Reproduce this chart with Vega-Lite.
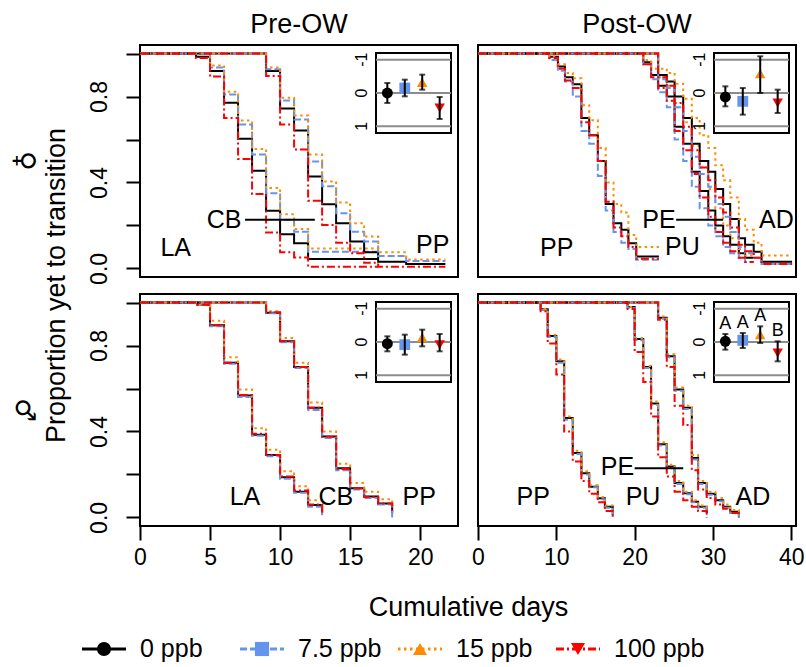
{
"$schema": "https://vega.github.io/schema/vega-lite/v6.json",
"background": "white",
"padding": {"left": 10, "top": 10, "right": 0, "bottom": 0},
"config": {
  "font": "Liberation Sans",
  "view": {"stroke": "black", "strokeWidth": 2},
  "axis": {"domain": false, "grid": false, "tickColor": "black", "tickWidth": 2, "tickSize": 14, "labelFontSize": 23, "labelColor": "black", "titleFontWeight": "normal", "titleColor": "black", "titleFontSize": 27, "labelOverlap": false, "labelFlush": false},
  "title": {"fontWeight": "normal", "fontSize": 27, "color": "black"},
  "text": {"color": "black"}
},
"datasets": {
"curves": [
{"g":"A","s":1,"t":"0","d":0,"p":1},{"g":"A","s":1,"t":"0","d":4,"p":0.985},{"g":"A","s":1,"t":"0","d":5,"p":0.919},{"g":"A","s":1,"t":"0","d":6,"p":0.771},{"g":"A","s":1,"t":"0","d":7,"p":0.604},{"g":"A","s":1,"t":"0","d":8,"p":0.455},{"g":"A","s":1,"t":"0","d":9,"p":0.268},{"g":"A","s":1,"t":"0","d":10,"p":0.159},{"g":"A","s":1,"t":"0","d":11,"p":0.117},{"g":"A","s":1,"t":"0","d":12,"p":0.044},{"g":"A","s":1,"t":"0","d":17,"p":0.044},
{"g":"A","s":1,"t":"7.5","d":0,"p":1},{"g":"A","s":1,"t":"7.5","d":5,"p":0.935},{"g":"A","s":1,"t":"7.5","d":6,"p":0.81},{"g":"A","s":1,"t":"7.5","d":7,"p":0.67},{"g":"A","s":1,"t":"7.5","d":8,"p":0.53},{"g":"A","s":1,"t":"7.5","d":9,"p":0.35},{"g":"A","s":1,"t":"7.5","d":10,"p":0.226},{"g":"A","s":1,"t":"7.5","d":11,"p":0.171},{"g":"A","s":1,"t":"7.5","d":12,"p":0.078},{"g":"A","s":1,"t":"7.5","d":17,"p":0.078},
{"g":"A","s":1,"t":"15","d":0,"p":1},{"g":"A","s":1,"t":"15","d":5,"p":0.945},{"g":"A","s":1,"t":"15","d":6,"p":0.822},{"g":"A","s":1,"t":"15","d":7,"p":0.688},{"g":"A","s":1,"t":"15","d":8,"p":0.556},{"g":"A","s":1,"t":"15","d":9,"p":0.374},{"g":"A","s":1,"t":"15","d":10,"p":0.252},{"g":"A","s":1,"t":"15","d":11,"p":0.184},{"g":"A","s":1,"t":"15","d":12,"p":0.093},{"g":"A","s":1,"t":"15","d":17,"p":0.093},
{"g":"A","s":1,"t":"100","d":0,"p":1},{"g":"A","s":1,"t":"100","d":4,"p":0.98},{"g":"A","s":1,"t":"100","d":5,"p":0.893},{"g":"A","s":1,"t":"100","d":6,"p":0.7},{"g":"A","s":1,"t":"100","d":7,"p":0.509},{"g":"A","s":1,"t":"100","d":8,"p":0.346},{"g":"A","s":1,"t":"100","d":9,"p":0.167},{"g":"A","s":1,"t":"100","d":10,"p":0.075},{"g":"A","s":1,"t":"100","d":11,"p":0.051},{"g":"A","s":1,"t":"100","d":12,"p":0.008},{"g":"A","s":1,"t":"100","d":17,"p":0.008},
{"g":"A","s":2,"t":"0","d":0,"p":1},{"g":"A","s":2,"t":"0","d":9,"p":0.919},{"g":"A","s":2,"t":"0","d":10,"p":0.744},{"g":"A","s":2,"t":"0","d":11,"p":0.642},{"g":"A","s":2,"t":"0","d":12,"p":0.428},{"g":"A","s":2,"t":"0","d":13,"p":0.299},{"g":"A","s":2,"t":"0","d":14,"p":0.21},{"g":"A","s":2,"t":"0","d":15,"p":0.125},{"g":"A","s":2,"t":"0","d":16,"p":0.075},{"g":"A","s":2,"t":"0","d":17,"p":0.031},{"g":"A","s":2,"t":"0","d":19,"p":0.02},{"g":"A","s":2,"t":"0","d":21.8,"p":0.02},
{"g":"A","s":2,"t":"7.5","d":0,"p":1},{"g":"A","s":2,"t":"7.5","d":9,"p":0.927},{"g":"A","s":2,"t":"7.5","d":10,"p":0.782},{"g":"A","s":2,"t":"7.5","d":11,"p":0.693},{"g":"A","s":2,"t":"7.5","d":12,"p":0.498},{"g":"A","s":2,"t":"7.5","d":13,"p":0.382},{"g":"A","s":2,"t":"7.5","d":14,"p":0.257},{"g":"A","s":2,"t":"7.5","d":15,"p":0.171},{"g":"A","s":2,"t":"7.5","d":16,"p":0.125},{"g":"A","s":2,"t":"7.5","d":17,"p":0.058},{"g":"A","s":2,"t":"7.5","d":19,"p":0.034},{"g":"A","s":2,"t":"7.5","d":21.8,"p":0.034},
{"g":"A","s":2,"t":"15","d":0,"p":1},{"g":"A","s":2,"t":"15","d":9,"p":0.935},{"g":"A","s":2,"t":"15","d":10,"p":0.794},{"g":"A","s":2,"t":"15","d":11,"p":0.712},{"g":"A","s":2,"t":"15","d":12,"p":0.53},{"g":"A","s":2,"t":"15","d":13,"p":0.405},{"g":"A","s":2,"t":"15","d":14,"p":0.307},{"g":"A","s":2,"t":"15","d":15,"p":0.21},{"g":"A","s":2,"t":"15","d":16,"p":0.148},{"g":"A","s":2,"t":"15","d":17,"p":0.075},{"g":"A","s":2,"t":"15","d":19,"p":0.042},{"g":"A","s":2,"t":"15","d":21.8,"p":0.042},
{"g":"A","s":2,"t":"100","d":0,"p":1},{"g":"A","s":2,"t":"100","d":9,"p":0.896},{"g":"A","s":2,"t":"100","d":10,"p":0.67},{"g":"A","s":2,"t":"100","d":11,"p":0.553},{"g":"A","s":2,"t":"100","d":12,"p":0.315},{"g":"A","s":2,"t":"100","d":13,"p":0.202},{"g":"A","s":2,"t":"100","d":14,"p":0.12},{"g":"A","s":2,"t":"100","d":15,"p":0.07},{"g":"A","s":2,"t":"100","d":16,"p":0.026},{"g":"A","s":2,"t":"100","d":17,"p":0.008},{"g":"A","s":2,"t":"100","d":21.8,"p":0.008},

{"g":"B","s":1,"t":"0","d":0,"p":1},{"g":"B","s":1,"t":"0","d":9.1,"p":0.985},{"g":"B","s":1,"t":"0","d":10.2,"p":0.94},{"g":"B","s":1,"t":"0","d":11.1,"p":0.89},{"g":"B","s":1,"t":"0","d":12.1,"p":0.857},{"g":"B","s":1,"t":"0","d":13.2,"p":0.7},{"g":"B","s":1,"t":"0","d":14.2,"p":0.62},{"g":"B","s":1,"t":"0","d":15.3,"p":0.5},{"g":"B","s":1,"t":"0","d":16.3,"p":0.3},{"g":"B","s":1,"t":"0","d":17.3,"p":0.21},{"g":"B","s":1,"t":"0","d":18.3,"p":0.18},{"g":"B","s":1,"t":"0","d":19.2,"p":0.117},{"g":"B","s":1,"t":"0","d":20.2,"p":0.055},{"g":"B","s":1,"t":"0","d":23.1,"p":0.055},
{"g":"B","s":1,"t":"7.5","d":0,"p":1},{"g":"B","s":1,"t":"7.5","d":9.1,"p":0.97},{"g":"B","s":1,"t":"7.5","d":10.2,"p":0.92},{"g":"B","s":1,"t":"7.5","d":11.1,"p":0.87},{"g":"B","s":1,"t":"7.5","d":12.1,"p":0.8},{"g":"B","s":1,"t":"7.5","d":13.2,"p":0.64},{"g":"B","s":1,"t":"7.5","d":14.2,"p":0.58},{"g":"B","s":1,"t":"7.5","d":15.3,"p":0.43},{"g":"B","s":1,"t":"7.5","d":16.3,"p":0.27},{"g":"B","s":1,"t":"7.5","d":17.3,"p":0.17},{"g":"B","s":1,"t":"7.5","d":18.3,"p":0.12},{"g":"B","s":1,"t":"7.5","d":19.2,"p":0.09},{"g":"B","s":1,"t":"7.5","d":20.2,"p":0.04},{"g":"B","s":1,"t":"7.5","d":23.1,"p":0.04},
{"g":"B","s":1,"t":"15","d":0,"p":1},{"g":"B","s":1,"t":"15","d":9.1,"p":0.985},{"g":"B","s":1,"t":"15","d":10.2,"p":0.95},{"g":"B","s":1,"t":"15","d":11.1,"p":0.91},{"g":"B","s":1,"t":"15","d":12.1,"p":0.885},{"g":"B","s":1,"t":"15","d":13.2,"p":0.76},{"g":"B","s":1,"t":"15","d":14.2,"p":0.69},{"g":"B","s":1,"t":"15","d":15.3,"p":0.56},{"g":"B","s":1,"t":"15","d":16.3,"p":0.4},{"g":"B","s":1,"t":"15","d":17.3,"p":0.3},{"g":"B","s":1,"t":"15","d":18.3,"p":0.26},{"g":"B","s":1,"t":"15","d":19.2,"p":0.156},{"g":"B","s":1,"t":"15","d":20.2,"p":0.1},{"g":"B","s":1,"t":"15","d":23.1,"p":0.1},
{"g":"B","s":1,"t":"100","d":0,"p":1},{"g":"B","s":1,"t":"100","d":9.1,"p":0.98},{"g":"B","s":1,"t":"100","d":10.2,"p":0.93},{"g":"B","s":1,"t":"100","d":11.1,"p":0.875},{"g":"B","s":1,"t":"100","d":12.1,"p":0.84},{"g":"B","s":1,"t":"100","d":13.2,"p":0.68},{"g":"B","s":1,"t":"100","d":14.2,"p":0.62},{"g":"B","s":1,"t":"100","d":15.3,"p":0.5},{"g":"B","s":1,"t":"100","d":16.3,"p":0.31},{"g":"B","s":1,"t":"100","d":17.3,"p":0.19},{"g":"B","s":1,"t":"100","d":18.3,"p":0.15},{"g":"B","s":1,"t":"100","d":19.2,"p":0.1},{"g":"B","s":1,"t":"100","d":20.2,"p":0.045},{"g":"B","s":1,"t":"100","d":23.1,"p":0.045},
{"g":"B","s":2,"t":"0","d":0,"p":1},{"g":"B","s":2,"t":"0","d":21.1,"p":0.96},{"g":"B","s":2,"t":"0","d":22.1,"p":0.9},{"g":"B","s":2,"t":"0","d":23,"p":0.85},{"g":"B","s":2,"t":"0","d":24.1,"p":0.8},{"g":"B","s":2,"t":"0","d":25.1,"p":0.66},{"g":"B","s":2,"t":"0","d":26.2,"p":0.58},{"g":"B","s":2,"t":"0","d":27.3,"p":0.45},{"g":"B","s":2,"t":"0","d":28.3,"p":0.36},{"g":"B","s":2,"t":"0","d":29.4,"p":0.27},{"g":"B","s":2,"t":"0","d":30.3,"p":0.2},{"g":"B","s":2,"t":"0","d":31.3,"p":0.15},{"g":"B","s":2,"t":"0","d":32.2,"p":0.11},{"g":"B","s":2,"t":"0","d":33.3,"p":0.07},{"g":"B","s":2,"t":"0","d":34.1,"p":0.05},{"g":"B","s":2,"t":"0","d":35.2,"p":0.05},
{"g":"B","s":2,"t":"7.5","d":0,"p":1},{"g":"B","s":2,"t":"7.5","d":21.1,"p":0.95},{"g":"B","s":2,"t":"7.5","d":22.1,"p":0.88},{"g":"B","s":2,"t":"7.5","d":23,"p":0.82},{"g":"B","s":2,"t":"7.5","d":24.1,"p":0.75},{"g":"B","s":2,"t":"7.5","d":25.1,"p":0.6},{"g":"B","s":2,"t":"7.5","d":26.2,"p":0.5},{"g":"B","s":2,"t":"7.5","d":27.3,"p":0.38},{"g":"B","s":2,"t":"7.5","d":28.3,"p":0.28},{"g":"B","s":2,"t":"7.5","d":29.4,"p":0.2},{"g":"B","s":2,"t":"7.5","d":30.3,"p":0.15},{"g":"B","s":2,"t":"7.5","d":31.3,"p":0.1},{"g":"B","s":2,"t":"7.5","d":32.2,"p":0.07},{"g":"B","s":2,"t":"7.5","d":33.3,"p":0.05},{"g":"B","s":2,"t":"7.5","d":34.1,"p":0.03},{"g":"B","s":2,"t":"7.5","d":35.2,"p":0.03},
{"g":"B","s":2,"t":"15","d":0,"p":1},{"g":"B","s":2,"t":"15","d":21.1,"p":0.97},{"g":"B","s":2,"t":"15","d":22.1,"p":0.93},{"g":"B","s":2,"t":"15","d":23,"p":0.89},{"g":"B","s":2,"t":"15","d":24.1,"p":0.85},{"g":"B","s":2,"t":"15","d":25.1,"p":0.75},{"g":"B","s":2,"t":"15","d":26.2,"p":0.68},{"g":"B","s":2,"t":"15","d":27.3,"p":0.57},{"g":"B","s":2,"t":"15","d":28.3,"p":0.47},{"g":"B","s":2,"t":"15","d":29.4,"p":0.37},{"g":"B","s":2,"t":"15","d":30.3,"p":0.28},{"g":"B","s":2,"t":"15","d":31.3,"p":0.2},{"g":"B","s":2,"t":"15","d":32.2,"p":0.14},{"g":"B","s":2,"t":"15","d":33.3,"p":0.09},{"g":"B","s":2,"t":"15","d":34.1,"p":0.06},{"g":"B","s":2,"t":"15","d":35.2,"p":0.06},
{"g":"B","s":2,"t":"100","d":0,"p":1},{"g":"B","s":2,"t":"100","d":21.1,"p":0.95},{"g":"B","s":2,"t":"100","d":22.1,"p":0.89},{"g":"B","s":2,"t":"100","d":23,"p":0.84},{"g":"B","s":2,"t":"100","d":24.1,"p":0.78},{"g":"B","s":2,"t":"100","d":25.1,"p":0.64},{"g":"B","s":2,"t":"100","d":26.2,"p":0.55},{"g":"B","s":2,"t":"100","d":27.3,"p":0.44},{"g":"B","s":2,"t":"100","d":28.3,"p":0.33},{"g":"B","s":2,"t":"100","d":29.4,"p":0.24},{"g":"B","s":2,"t":"100","d":30.3,"p":0.17},{"g":"B","s":2,"t":"100","d":31.3,"p":0.12},{"g":"B","s":2,"t":"100","d":32.2,"p":0.08},{"g":"B","s":2,"t":"100","d":33.3,"p":0.05},{"g":"B","s":2,"t":"100","d":34.1,"p":0.03},{"g":"B","s":2,"t":"100","d":35.2,"p":0.03},
{"g":"B","s":3,"t":"0","d":0,"p":1},{"g":"B","s":3,"t":"0","d":23,"p":0.9},{"g":"B","s":3,"t":"0","d":24.1,"p":0.87},{"g":"B","s":3,"t":"0","d":25.1,"p":0.8},{"g":"B","s":3,"t":"0","d":26.2,"p":0.7},{"g":"B","s":3,"t":"0","d":27.3,"p":0.58},{"g":"B","s":3,"t":"0","d":28.3,"p":0.5},{"g":"B","s":3,"t":"0","d":29.4,"p":0.45},{"g":"B","s":3,"t":"0","d":30.3,"p":0.37},{"g":"B","s":3,"t":"0","d":31.3,"p":0.3},{"g":"B","s":3,"t":"0","d":32.2,"p":0.23},{"g":"B","s":3,"t":"0","d":33.3,"p":0.14},{"g":"B","s":3,"t":"0","d":34.1,"p":0.11},{"g":"B","s":3,"t":"0","d":35.2,"p":0.078},{"g":"B","s":3,"t":"0","d":36.2,"p":0.031},{"g":"B","s":3,"t":"0","d":40.1,"p":0.031},
{"g":"B","s":3,"t":"7.5","d":0,"p":1},{"g":"B","s":3,"t":"7.5","d":23,"p":0.88},{"g":"B","s":3,"t":"7.5","d":24.1,"p":0.84},{"g":"B","s":3,"t":"7.5","d":25.1,"p":0.75},{"g":"B","s":3,"t":"7.5","d":26.2,"p":0.64},{"g":"B","s":3,"t":"7.5","d":27.3,"p":0.52},{"g":"B","s":3,"t":"7.5","d":28.3,"p":0.44},{"g":"B","s":3,"t":"7.5","d":29.4,"p":0.38},{"g":"B","s":3,"t":"7.5","d":30.3,"p":0.3},{"g":"B","s":3,"t":"7.5","d":31.3,"p":0.24},{"g":"B","s":3,"t":"7.5","d":32.2,"p":0.17},{"g":"B","s":3,"t":"7.5","d":33.3,"p":0.1},{"g":"B","s":3,"t":"7.5","d":34.1,"p":0.07},{"g":"B","s":3,"t":"7.5","d":35.2,"p":0.05},{"g":"B","s":3,"t":"7.5","d":36.2,"p":0.02},{"g":"B","s":3,"t":"7.5","d":40.1,"p":0.02},
{"g":"B","s":3,"t":"15","d":0,"p":1},{"g":"B","s":3,"t":"15","d":23,"p":0.93},{"g":"B","s":3,"t":"15","d":24.1,"p":0.91},{"g":"B","s":3,"t":"15","d":25.1,"p":0.86},{"g":"B","s":3,"t":"15","d":26.2,"p":0.79},{"g":"B","s":3,"t":"15","d":27.3,"p":0.7},{"g":"B","s":3,"t":"15","d":28.3,"p":0.62},{"g":"B","s":3,"t":"15","d":29.4,"p":0.56},{"g":"B","s":3,"t":"15","d":30.3,"p":0.48},{"g":"B","s":3,"t":"15","d":31.3,"p":0.41},{"g":"B","s":3,"t":"15","d":32.2,"p":0.33},{"g":"B","s":3,"t":"15","d":33.3,"p":0.23},{"g":"B","s":3,"t":"15","d":34.1,"p":0.18},{"g":"B","s":3,"t":"15","d":35.2,"p":0.12},{"g":"B","s":3,"t":"15","d":36.2,"p":0.06},{"g":"B","s":3,"t":"15","d":40.1,"p":0.06},
{"g":"B","s":3,"t":"100","d":0,"p":1},{"g":"B","s":3,"t":"100","d":23,"p":0.89},{"g":"B","s":3,"t":"100","d":24.1,"p":0.85},{"g":"B","s":3,"t":"100","d":25.1,"p":0.77},{"g":"B","s":3,"t":"100","d":26.2,"p":0.66},{"g":"B","s":3,"t":"100","d":27.3,"p":0.55},{"g":"B","s":3,"t":"100","d":28.3,"p":0.47},{"g":"B","s":3,"t":"100","d":29.4,"p":0.41},{"g":"B","s":3,"t":"100","d":30.3,"p":0.33},{"g":"B","s":3,"t":"100","d":31.3,"p":0.26},{"g":"B","s":3,"t":"100","d":32.2,"p":0.19},{"g":"B","s":3,"t":"100","d":33.3,"p":0.11},{"g":"B","s":3,"t":"100","d":34.1,"p":0.08},{"g":"B","s":3,"t":"100","d":35.2,"p":0.05},{"g":"B","s":3,"t":"100","d":36.2,"p":0.02},{"g":"B","s":3,"t":"100","d":40.1,"p":0.02},

{"g":"C","s":1,"t":"0","d":0,"p":1},{"g":"C","s":1,"t":"0","d":4.1,"p":0.99},{"g":"C","s":1,"t":"0","d":5,"p":0.894},{"g":"C","s":1,"t":"0","d":6,"p":0.72},{"g":"C","s":1,"t":"0","d":7,"p":0.567},{"g":"C","s":1,"t":"0","d":8,"p":0.385},{"g":"C","s":1,"t":"0","d":9,"p":0.291},{"g":"C","s":1,"t":"0","d":10,"p":0.187},{"g":"C","s":1,"t":"0","d":11,"p":0.12},{"g":"C","s":1,"t":"0","d":12,"p":0.058},{"g":"C","s":1,"t":"0","d":13,"p":0.02},
{"g":"C","s":1,"t":"7.5","d":0,"p":1},{"g":"C","s":1,"t":"7.5","d":4.1,"p":0.99},{"g":"C","s":1,"t":"7.5","d":5,"p":0.89},{"g":"C","s":1,"t":"7.5","d":6,"p":0.715},{"g":"C","s":1,"t":"7.5","d":7,"p":0.56},{"g":"C","s":1,"t":"7.5","d":8,"p":0.38},{"g":"C","s":1,"t":"7.5","d":9,"p":0.285},{"g":"C","s":1,"t":"7.5","d":10,"p":0.18},{"g":"C","s":1,"t":"7.5","d":11,"p":0.115},{"g":"C","s":1,"t":"7.5","d":12,"p":0.05},{"g":"C","s":1,"t":"7.5","d":13,"p":0.01},
{"g":"C","s":1,"t":"15","d":0,"p":1},{"g":"C","s":1,"t":"15","d":4.1,"p":0.99},{"g":"C","s":1,"t":"15","d":5,"p":0.915},{"g":"C","s":1,"t":"15","d":6,"p":0.745},{"g":"C","s":1,"t":"15","d":7,"p":0.595},{"g":"C","s":1,"t":"15","d":8,"p":0.415},{"g":"C","s":1,"t":"15","d":9,"p":0.315},{"g":"C","s":1,"t":"15","d":10,"p":0.215},{"g":"C","s":1,"t":"15","d":11,"p":0.145},{"g":"C","s":1,"t":"15","d":12,"p":0.08},{"g":"C","s":1,"t":"15","d":13,"p":0.045},
{"g":"C","s":1,"t":"100","d":0,"p":1},{"g":"C","s":1,"t":"100","d":4.1,"p":0.99},{"g":"C","s":1,"t":"100","d":5,"p":0.895},{"g":"C","s":1,"t":"100","d":6,"p":0.72},{"g":"C","s":1,"t":"100","d":7,"p":0.57},{"g":"C","s":1,"t":"100","d":8,"p":0.39},{"g":"C","s":1,"t":"100","d":9,"p":0.29},{"g":"C","s":1,"t":"100","d":10,"p":0.19},{"g":"C","s":1,"t":"100","d":11,"p":0.125},{"g":"C","s":1,"t":"100","d":12,"p":0.06},{"g":"C","s":1,"t":"100","d":13,"p":0.02},
{"g":"C","s":2,"t":"0","d":0,"p":1},{"g":"C","s":2,"t":"0","d":9,"p":0.953},{"g":"C","s":2,"t":"0","d":10,"p":0.82},{"g":"C","s":2,"t":"0","d":11,"p":0.7},{"g":"C","s":2,"t":"0","d":12,"p":0.51},{"g":"C","s":2,"t":"0","d":13,"p":0.377},{"g":"C","s":2,"t":"0","d":14,"p":0.229},{"g":"C","s":2,"t":"0","d":15,"p":0.136},{"g":"C","s":2,"t":"0","d":16,"p":0.097},{"g":"C","s":2,"t":"0","d":17,"p":0.065},{"g":"C","s":2,"t":"0","d":18,"p":0.02},
{"g":"C","s":2,"t":"7.5","d":0,"p":1},{"g":"C","s":2,"t":"7.5","d":9,"p":0.95},{"g":"C","s":2,"t":"7.5","d":10,"p":0.815},{"g":"C","s":2,"t":"7.5","d":11,"p":0.695},{"g":"C","s":2,"t":"7.5","d":12,"p":0.5},{"g":"C","s":2,"t":"7.5","d":13,"p":0.37},{"g":"C","s":2,"t":"7.5","d":14,"p":0.22},{"g":"C","s":2,"t":"7.5","d":15,"p":0.13},{"g":"C","s":2,"t":"7.5","d":16,"p":0.09},{"g":"C","s":2,"t":"7.5","d":17,"p":0.06},{"g":"C","s":2,"t":"7.5","d":18,"p":0},
{"g":"C","s":2,"t":"15","d":0,"p":1},{"g":"C","s":2,"t":"15","d":9,"p":0.96},{"g":"C","s":2,"t":"15","d":10,"p":0.835},{"g":"C","s":2,"t":"15","d":11,"p":0.72},{"g":"C","s":2,"t":"15","d":12,"p":0.535},{"g":"C","s":2,"t":"15","d":13,"p":0.4},{"g":"C","s":2,"t":"15","d":14,"p":0.25},{"g":"C","s":2,"t":"15","d":15,"p":0.16},{"g":"C","s":2,"t":"15","d":16,"p":0.12},{"g":"C","s":2,"t":"15","d":17,"p":0.085},{"g":"C","s":2,"t":"15","d":18,"p":0.06},
{"g":"C","s":2,"t":"100","d":0,"p":1},{"g":"C","s":2,"t":"100","d":9,"p":0.955},{"g":"C","s":2,"t":"100","d":10,"p":0.82},{"g":"C","s":2,"t":"100","d":11,"p":0.7},{"g":"C","s":2,"t":"100","d":12,"p":0.51},{"g":"C","s":2,"t":"100","d":13,"p":0.375},{"g":"C","s":2,"t":"100","d":14,"p":0.225},{"g":"C","s":2,"t":"100","d":15,"p":0.135},{"g":"C","s":2,"t":"100","d":16,"p":0.095},{"g":"C","s":2,"t":"100","d":17,"p":0.065},{"g":"C","s":2,"t":"100","d":18,"p":0.03},

{"g":"D","s":1,"t":"0","d":0,"p":1},{"g":"D","s":1,"t":"0","d":8,"p":0.969},{"g":"D","s":1,"t":"0","d":8.9,"p":0.844},{"g":"D","s":1,"t":"0","d":10,"p":0.727},{"g":"D","s":1,"t":"0","d":11,"p":0.463},{"g":"D","s":1,"t":"0","d":12.1,"p":0.3},{"g":"D","s":1,"t":"0","d":13.2,"p":0.206},{"g":"D","s":1,"t":"0","d":14.2,"p":0.143},{"g":"D","s":1,"t":"0","d":15.3,"p":0.089},{"g":"D","s":1,"t":"0","d":16.2,"p":0.05},{"g":"D","s":1,"t":"0","d":17.2,"p":0.01},
{"g":"D","s":1,"t":"7.5","d":0,"p":1},{"g":"D","s":1,"t":"7.5","d":8,"p":0.965},{"g":"D","s":1,"t":"7.5","d":8.9,"p":0.84},{"g":"D","s":1,"t":"7.5","d":10,"p":0.72},{"g":"D","s":1,"t":"7.5","d":11,"p":0.455},{"g":"D","s":1,"t":"7.5","d":12.1,"p":0.295},{"g":"D","s":1,"t":"7.5","d":13.2,"p":0.2},{"g":"D","s":1,"t":"7.5","d":14.2,"p":0.14},{"g":"D","s":1,"t":"7.5","d":15.3,"p":0.085},{"g":"D","s":1,"t":"7.5","d":16.2,"p":0.045},{"g":"D","s":1,"t":"7.5","d":17.2,"p":0},
{"g":"D","s":1,"t":"15","d":0,"p":1},{"g":"D","s":1,"t":"15","d":8,"p":0.97},{"g":"D","s":1,"t":"15","d":8.9,"p":0.85},{"g":"D","s":1,"t":"15","d":10,"p":0.735},{"g":"D","s":1,"t":"15","d":11,"p":0.47},{"g":"D","s":1,"t":"15","d":12.1,"p":0.31},{"g":"D","s":1,"t":"15","d":13.2,"p":0.215},{"g":"D","s":1,"t":"15","d":14.2,"p":0.15},{"g":"D","s":1,"t":"15","d":15.3,"p":0.095},{"g":"D","s":1,"t":"15","d":16.2,"p":0.055},{"g":"D","s":1,"t":"15","d":17.2,"p":0.02},
{"g":"D","s":1,"t":"100","d":0,"p":1},{"g":"D","s":1,"t":"100","d":8,"p":0.96},{"g":"D","s":1,"t":"100","d":8.9,"p":0.81},{"g":"D","s":1,"t":"100","d":10,"p":0.665},{"g":"D","s":1,"t":"100","d":11,"p":0.4},{"g":"D","s":1,"t":"100","d":12.1,"p":0.26},{"g":"D","s":1,"t":"100","d":13.2,"p":0.17},{"g":"D","s":1,"t":"100","d":14.2,"p":0.11},{"g":"D","s":1,"t":"100","d":15.3,"p":0.07},{"g":"D","s":1,"t":"100","d":16.2,"p":0.03},{"g":"D","s":1,"t":"100","d":17.2,"p":0},
{"g":"D","s":2,"t":"0","d":0,"p":1},{"g":"D","s":2,"t":"0","d":19.1,"p":0.98},{"g":"D","s":2,"t":"0","d":20,"p":0.83},{"g":"D","s":2,"t":"0","d":21.1,"p":0.7},{"g":"D","s":2,"t":"0","d":22.1,"p":0.53},{"g":"D","s":2,"t":"0","d":23,"p":0.34},{"g":"D","s":2,"t":"0","d":24.1,"p":0.237},{"g":"D","s":2,"t":"0","d":25.1,"p":0.16},{"g":"D","s":2,"t":"0","d":26.2,"p":0.112},{"g":"D","s":2,"t":"0","d":27.3,"p":0.073},{"g":"D","s":2,"t":"0","d":28.1,"p":0.05},{"g":"D","s":2,"t":"0","d":29.2,"p":0.02},
{"g":"D","s":2,"t":"7.5","d":0,"p":1},{"g":"D","s":2,"t":"7.5","d":19.1,"p":0.975},{"g":"D","s":2,"t":"7.5","d":20,"p":0.825},{"g":"D","s":2,"t":"7.5","d":21.1,"p":0.695},{"g":"D","s":2,"t":"7.5","d":22.1,"p":0.525},{"g":"D","s":2,"t":"7.5","d":23,"p":0.335},{"g":"D","s":2,"t":"7.5","d":24.1,"p":0.23},{"g":"D","s":2,"t":"7.5","d":25.1,"p":0.155},{"g":"D","s":2,"t":"7.5","d":26.2,"p":0.108},{"g":"D","s":2,"t":"7.5","d":27.3,"p":0.07},{"g":"D","s":2,"t":"7.5","d":28.1,"p":0.045},{"g":"D","s":2,"t":"7.5","d":29.2,"p":0.01},
{"g":"D","s":2,"t":"15","d":0,"p":1},{"g":"D","s":2,"t":"15","d":19.1,"p":0.98},{"g":"D","s":2,"t":"15","d":20,"p":0.835},{"g":"D","s":2,"t":"15","d":21.1,"p":0.705},{"g":"D","s":2,"t":"15","d":22.1,"p":0.54},{"g":"D","s":2,"t":"15","d":23,"p":0.35},{"g":"D","s":2,"t":"15","d":24.1,"p":0.245},{"g":"D","s":2,"t":"15","d":25.1,"p":0.17},{"g":"D","s":2,"t":"15","d":26.2,"p":0.12},{"g":"D","s":2,"t":"15","d":27.3,"p":0.08},{"g":"D","s":2,"t":"15","d":28.1,"p":0.055},{"g":"D","s":2,"t":"15","d":29.2,"p":0.025},
{"g":"D","s":2,"t":"100","d":0,"p":1},{"g":"D","s":2,"t":"100","d":19.1,"p":0.97},{"g":"D","s":2,"t":"100","d":20,"p":0.77},{"g":"D","s":2,"t":"100","d":21.1,"p":0.63},{"g":"D","s":2,"t":"100","d":22.1,"p":0.47},{"g":"D","s":2,"t":"100","d":23,"p":0.28},{"g":"D","s":2,"t":"100","d":24.1,"p":0.19},{"g":"D","s":2,"t":"100","d":25.1,"p":0.12},{"g":"D","s":2,"t":"100","d":26.2,"p":0.08},{"g":"D","s":2,"t":"100","d":27.3,"p":0.05},{"g":"D","s":2,"t":"100","d":28.1,"p":0.03},{"g":"D","s":2,"t":"100","d":29.2,"p":0},
{"g":"D","s":3,"t":"0","d":0,"p":1},{"g":"D","s":3,"t":"0","d":23,"p":0.93},{"g":"D","s":3,"t":"0","d":24.1,"p":0.75},{"g":"D","s":3,"t":"0","d":25.1,"p":0.595},{"g":"D","s":3,"t":"0","d":26.2,"p":0.51},{"g":"D","s":3,"t":"0","d":27.3,"p":0.276},{"g":"D","s":3,"t":"0","d":28.1,"p":0.16},{"g":"D","s":3,"t":"0","d":29.2,"p":0.11},{"g":"D","s":3,"t":"0","d":30.3,"p":0.08},{"g":"D","s":3,"t":"0","d":31.3,"p":0.05},{"g":"D","s":3,"t":"0","d":32.2,"p":0.026},{"g":"D","s":3,"t":"0","d":33.3,"p":0.01},
{"g":"D","s":3,"t":"7.5","d":0,"p":1},{"g":"D","s":3,"t":"7.5","d":23,"p":0.925},{"g":"D","s":3,"t":"7.5","d":24.1,"p":0.745},{"g":"D","s":3,"t":"7.5","d":25.1,"p":0.59},{"g":"D","s":3,"t":"7.5","d":26.2,"p":0.505},{"g":"D","s":3,"t":"7.5","d":27.3,"p":0.27},{"g":"D","s":3,"t":"7.5","d":28.1,"p":0.155},{"g":"D","s":3,"t":"7.5","d":29.2,"p":0.105},{"g":"D","s":3,"t":"7.5","d":30.3,"p":0.075},{"g":"D","s":3,"t":"7.5","d":31.3,"p":0.045},{"g":"D","s":3,"t":"7.5","d":32.2,"p":0.02},{"g":"D","s":3,"t":"7.5","d":33.3,"p":0},
{"g":"D","s":3,"t":"15","d":0,"p":1},{"g":"D","s":3,"t":"15","d":23,"p":0.935},{"g":"D","s":3,"t":"15","d":24.1,"p":0.76},{"g":"D","s":3,"t":"15","d":25.1,"p":0.605},{"g":"D","s":3,"t":"15","d":26.2,"p":0.52},{"g":"D","s":3,"t":"15","d":27.3,"p":0.29},{"g":"D","s":3,"t":"15","d":28.1,"p":0.17},{"g":"D","s":3,"t":"15","d":29.2,"p":0.12},{"g":"D","s":3,"t":"15","d":30.3,"p":0.09},{"g":"D","s":3,"t":"15","d":31.3,"p":0.06},{"g":"D","s":3,"t":"15","d":32.2,"p":0.035},{"g":"D","s":3,"t":"15","d":33.3,"p":0.015},
{"g":"D","s":3,"t":"100","d":0,"p":1},{"g":"D","s":3,"t":"100","d":23,"p":0.92},{"g":"D","s":3,"t":"100","d":24.1,"p":0.7},{"g":"D","s":3,"t":"100","d":25.1,"p":0.52},{"g":"D","s":3,"t":"100","d":26.2,"p":0.43},{"g":"D","s":3,"t":"100","d":27.3,"p":0.22},{"g":"D","s":3,"t":"100","d":28.1,"p":0.13},{"g":"D","s":3,"t":"100","d":29.2,"p":0.09},{"g":"D","s":3,"t":"100","d":30.3,"p":0.06},{"g":"D","s":3,"t":"100","d":31.3,"p":0.04},{"g":"D","s":3,"t":"100","d":32.2,"p":0.02},{"g":"D","s":3,"t":"100","d":33.3,"p":0}
],
"labels": [
{"g":"A","lab":"LA","d":2.55,"p":0.097},{"g":"A","lab":"CB","d":6.0,"p":0.226},{"g":"A","lab":"PP","d":20.9,"p":0.109},
{"g":"B","lab":"PP","d":10.06,"p":0.095},{"g":"B","lab":"PU","d":26.1,"p":0.1},{"g":"B","lab":"PE","d":23.1,"p":0.226},{"g":"B","lab":"AD","d":38.1,"p":0.226},
{"g":"C","lab":"LA","d":7.49,"p":0.096},{"g":"C","lab":"CB","d":13.98,"p":0.096},{"g":"C","lab":"PP","d":19.93,"p":0.096},
{"g":"D","lab":"PP","d":7.05,"p":0.096},{"g":"D","lab":"PU","d":21.07,"p":0.096},{"g":"D","lab":"PE","d":17.8,"p":0.235},{"g":"D","lab":"AD","d":35.1,"p":0.096}
],
"sex": [{"g":"A","sym":"♀","d":-8.28,"p":0.5},{"g":"C","sym":"♂","d":-8.28,"p":0.5}],
"ptr": [
{"g":"A","d1":7.5,"d2":12.48,"p":0.226},{"g":"B","d1":25.3,"d2":31.3,"p":0.226},{"g":"D","d1":20.0,"d2":26.2,"p":0.229}
],
"inset": [
{"g":"A","t":"0","i":1,"est":0.0,"lo":-0.3,"hi":0.3,"lt":""},{"g":"A","t":"7.5","i":2,"est":-0.15,"lo":-0.4,"hi":0.1,"lt":""},{"g":"A","t":"15","i":3,"est":-0.32,"lo":-0.55,"hi":-0.1,"lt":""},{"g":"A","t":"100","i":4,"est":0.45,"lo":0.12,"hi":0.78,"lt":""},
{"g":"B","t":"0","i":1,"est":0.12,"lo":-0.2,"hi":0.4,"lt":""},{"g":"B","t":"7.5","i":2,"est":0.25,"lo":-0.15,"hi":0.65,"lt":""},{"g":"B","t":"15","i":3,"est":-0.58,"lo":-1.1,"hi":0.0,"lt":""},{"g":"B","t":"100","i":4,"est":0.3,"lo":-0.1,"hi":0.6,"lt":""},
{"g":"C","t":"0","i":1,"est":0.05,"lo":-0.17,"hi":0.28,"lt":""},{"g":"C","t":"7.5","i":2,"est":0.08,"lo":-0.22,"hi":0.38,"lt":""},{"g":"C","t":"15","i":3,"est":-0.14,"lo":-0.37,"hi":0.13,"lt":""},{"g":"C","t":"100","i":4,"est":0.08,"lo":-0.24,"hi":0.28,"lt":""},
{"g":"D","t":"0","i":1,"est":-0.02,"lo":-0.24,"hi":0.23,"lt":"A"},{"g":"D","t":"7.5","i":2,"est":-0.05,"lo":-0.27,"hi":0.18,"lt":"A"},{"g":"D","t":"15","i":3,"est":-0.22,"lo":-0.47,"hi":0.03,"lt":"A"},{"g":"D","t":"100","i":4,"est":0.33,"lo":-0.02,"hi":0.58,"lt":"B"}
],
"iticks": [{"v":-1,"lab":"-1"},{"v":0,"lab":"0"},{"v":1,"lab":"1"}],
"legend": [{"t":"0","name":"0 ppb"},{"t":"7.5","name":"7.5 ppb"},{"t":"15","name":"15 ppb"},{"t":"100","name":"100 ppb"}]
},
"concat": [
  {"width": 318, "height": 232,
   "title": {"text": "Pre-OW", "frame": "group", "offset": 6},
   "layer": [
    {"data": {"name": "curves"}, "transform": [{"filter": "datum.g == 'A'"}],
     "mark": {"type": "line", "interpolate": "step-after", "strokeWidth": 2},
     "encoding": {
      "x": {"field": "d", "type": "quantitative", "scale": {"domain": [0, 22.7], "nice": false, "zero": false}, "axis": null},
      "y": {"field": "p", "type": "quantitative", "scale": {"domain": [-0.04, 1.04], "nice": false, "zero": false},
            "axis": {"values": [0, 0.2, 0.4, 0.6, 0.8, 1], "labelExpr": "datum.value == 0 || datum.value == 0.4 || datum.value == 0.8 ? format(datum.value, '.1f') : ''", "labelAngle": 270, "labelAlign": "center", "labelBaseline": "bottom", "labelPadding": 15, "title": null}},
      "color": {"field": "t", "type": "nominal", "scale": {"domain": ["0","7.5","15","100"], "range": ["#000000","#6495ED","#FF8C00","#FF0000"]}, "legend": null},
      "strokeDash": {"field": "t", "type": "nominal", "scale": {"domain": ["0","7.5","15","100"], "range": [[1,0],[7,3],[2.5,3.5],[8,3,2,3]]}, "legend": null},
      "detail": {"field": "s"}}},
    {"data": {"name": "labels"}, "transform": [{"filter": "datum.g == 'A'"}],
     "mark": {"type": "text", "fontSize": 25, "align": "center", "baseline": "middle"},
     "encoding": {
      "x": {"field": "d", "type": "quantitative", "scale": {"domain": [0, 22.7], "nice": false, "zero": false}, "axis": null},
      "y": {"field": "p", "type": "quantitative", "scale": {"domain": [-0.04, 1.04], "nice": false, "zero": false}, "axis": null},
      "text": {"field": "lab"}}},
    {"data": {"name": "sex"}, "transform": [{"filter": "datum.g == 'A'"}],
     "mark": {"type": "text", "fontSize": 27, "font": "DejaVu Sans", "angle": 90, "align": "center", "baseline": "middle"},
     "encoding": {
      "x": {"field": "d", "type": "quantitative", "scale": {"domain": [0, 22.7], "nice": false, "zero": false}, "axis": null},
      "y": {"field": "p", "type": "quantitative", "scale": {"domain": [-0.04, 1.04], "nice": false, "zero": false}, "axis": null},
      "text": {"field": "sym"}}},
    {"data": {"name": "ptr"}, "transform": [{"filter": "datum.g == 'A'"}],
     "mark": {"type": "rule", "color": "black", "strokeWidth": 2},
     "encoding": {
      "x": {"field": "d1", "type": "quantitative", "scale": {"domain": [0, 22.7], "nice": false, "zero": false}, "axis": null},
      "x2": {"field": "d2"},
      "y": {"field": "p", "type": "quantitative", "scale": {"domain": [-0.04, 1.04], "nice": false, "zero": false}, "axis": null}}},
    {"data": {"values": [{}]}, "mark": {"type": "rect", "fill": "white", "stroke": "black", "strokeWidth": 2},
     "encoding": {"x": {"datum": 0.35, "type": "quantitative", "scale": {"domain": [0.35, 4.65], "range": [236, 311], "nice": false, "zero": false}, "axis": null}, "x2": {"datum": 4.65},
                  "y": {"datum": -1.2, "type": "quantitative", "scale": {"domain": [-1.2, 1.2], "range": [8, 88], "nice": false, "zero": false}, "axis": null}, "y2": {"datum": 1.2}}},
    {"data": {"name": "iticks"}, "mark": {"type": "rule", "color": "#8c8c8c", "strokeWidth": 2},
     "encoding": {"x": {"datum": 0.35, "type": "quantitative", "scale": {"domain": [0.35, 4.65], "range": [236, 311], "nice": false, "zero": false}, "axis": null}, "x2": {"datum": 4.65},
                  "y": {"field": "v", "type": "quantitative", "scale": {"domain": [-1.2, 1.2], "range": [8, 88], "nice": false, "zero": false}, "axis": null}}},
    {"data": {"name": "iticks"}, "mark": {"type": "text", "angle": 270, "fontSize": 16, "align": "center", "baseline": "middle"},
     "encoding": {"x": {"datum": -0.45, "type": "quantitative", "scale": {"domain": [0.35, 4.65], "range": [236, 311], "nice": false, "zero": false}, "axis": null},
                  "y": {"field": "v", "type": "quantitative", "scale": {"domain": [-1.2, 1.2], "range": [8, 88], "nice": false, "zero": false}, "axis": null}, "text": {"field": "lab"}}},
    {"data": {"name": "inset"}, "transform": [{"filter": "datum.g == 'A'"}], "mark": {"type": "point", "filled": true, "opacity": 1},
     "encoding": {"x": {"field": "i", "type": "quantitative", "scale": {"domain": [0.35, 4.65], "range": [236, 311], "nice": false, "zero": false}, "axis": null},
                  "y": {"field": "est", "type": "quantitative", "scale": {"domain": [-1.2, 1.2], "range": [8, 88], "nice": false, "zero": false}, "axis": null},
                  "color": {"field": "t", "type": "nominal", "scale": {"domain": ["0","7.5","15","100"], "range": ["#000000","#6495ED","#FF8C00","#FF0000"]}, "legend": null},
                  "shape": {"field": "t", "type": "nominal", "scale": {"domain": ["0","7.5","15","100"], "range": ["circle","square","triangle-up","triangle-down"]}, "legend": null},
                  "size": {"field": "t", "type": "nominal", "scale": {"domain": ["0","7.5","15","100"], "range": [120,110,300,300]}, "legend": null}}},
    {"data": {"name": "inset"}, "transform": [{"filter": "datum.g == 'A'"}], "mark": {"type": "rule", "color": "black", "strokeWidth": 2},
     "encoding": {"x": {"field": "i", "type": "quantitative", "scale": {"domain": [0.35, 4.65], "range": [236, 311], "nice": false, "zero": false}, "axis": null},
                  "y": {"field": "lo", "type": "quantitative", "scale": {"domain": [-1.2, 1.2], "range": [8, 88], "nice": false, "zero": false}, "axis": null}, "y2": {"field": "hi"}}},
    {"data": {"name": "inset"}, "transform": [{"filter": "datum.g == 'A'"}], "mark": {"type": "tick", "orient": "horizontal", "size": 6, "thickness": 2, "color": "black"},
     "encoding": {"x": {"field": "i", "type": "quantitative", "scale": {"domain": [0.35, 4.65], "range": [236, 311], "nice": false, "zero": false}, "axis": null},
                  "y": {"field": "lo", "type": "quantitative", "scale": {"domain": [-1.2, 1.2], "range": [8, 88], "nice": false, "zero": false}, "axis": null}}},
    {"data": {"name": "inset"}, "transform": [{"filter": "datum.g == 'A'"}], "mark": {"type": "tick", "orient": "horizontal", "size": 6, "thickness": 2, "color": "black"},
     "encoding": {"x": {"field": "i", "type": "quantitative", "scale": {"domain": [0.35, 4.65], "range": [236, 311], "nice": false, "zero": false}, "axis": null},
                  "y": {"field": "hi", "type": "quantitative", "scale": {"domain": [-1.2, 1.2], "range": [8, 88], "nice": false, "zero": false}, "axis": null}}}
   ],
   "resolve": {"scale": {"x": "independent", "y": "independent"}}
  },
  {"width": 318, "height": 232,
   "title": {"text": "Post-OW", "frame": "group", "offset": 6},
   "layer": [
    {"data": {"name": "curves"}, "transform": [{"filter": "datum.g == 'B'"}],
     "mark": {"type": "line", "interpolate": "step-after", "strokeWidth": 2},
     "encoding": {
      "x": {"field": "d", "type": "quantitative", "scale": {"domain": [0, 40.6], "nice": false, "zero": false}, "axis": null},
      "y": {"field": "p", "type": "quantitative", "scale": {"domain": [-0.04, 1.04], "nice": false, "zero": false}, "axis": null},
      "color": {"field": "t", "type": "nominal", "scale": {"domain": ["0","7.5","15","100"], "range": ["#000000","#6495ED","#FF8C00","#FF0000"]}, "legend": null},
      "strokeDash": {"field": "t", "type": "nominal", "scale": {"domain": ["0","7.5","15","100"], "range": [[1,0],[7,3],[2.5,3.5],[8,3,2,3]]}, "legend": null},
      "detail": {"field": "s"}}},
    {"data": {"name": "labels"}, "transform": [{"filter": "datum.g == 'B'"}],
     "mark": {"type": "text", "fontSize": 25, "align": "center", "baseline": "middle"},
     "encoding": {
      "x": {"field": "d", "type": "quantitative", "scale": {"domain": [0, 40.6], "nice": false, "zero": false}, "axis": null},
      "y": {"field": "p", "type": "quantitative", "scale": {"domain": [-0.04, 1.04], "nice": false, "zero": false}, "axis": null},
      "text": {"field": "lab"}}},
    {"data": {"name": "ptr"}, "transform": [{"filter": "datum.g == 'B'"}],
     "mark": {"type": "rule", "color": "black", "strokeWidth": 2},
     "encoding": {
      "x": {"field": "d1", "type": "quantitative", "scale": {"domain": [0, 40.6], "nice": false, "zero": false}, "axis": null},
      "x2": {"field": "d2"},
      "y": {"field": "p", "type": "quantitative", "scale": {"domain": [-0.04, 1.04], "nice": false, "zero": false}, "axis": null}}},
    {"data": {"values": [{}]}, "mark": {"type": "rect", "fill": "white", "stroke": "black", "strokeWidth": 2},
     "encoding": {"x": {"datum": 0.35, "type": "quantitative", "scale": {"domain": [0.35, 4.65], "range": [236, 311], "nice": false, "zero": false}, "axis": null}, "x2": {"datum": 4.65},
                  "y": {"datum": -1.2, "type": "quantitative", "scale": {"domain": [-1.2, 1.2], "range": [8, 88], "nice": false, "zero": false}, "axis": null}, "y2": {"datum": 1.2}}},
    {"data": {"name": "iticks"}, "mark": {"type": "rule", "color": "#8c8c8c", "strokeWidth": 2},
     "encoding": {"x": {"datum": 0.35, "type": "quantitative", "scale": {"domain": [0.35, 4.65], "range": [236, 311], "nice": false, "zero": false}, "axis": null}, "x2": {"datum": 4.65},
                  "y": {"field": "v", "type": "quantitative", "scale": {"domain": [-1.2, 1.2], "range": [8, 88], "nice": false, "zero": false}, "axis": null}}},
    {"data": {"name": "iticks"}, "mark": {"type": "text", "angle": 270, "fontSize": 16, "align": "center", "baseline": "middle"},
     "encoding": {"x": {"datum": -0.45, "type": "quantitative", "scale": {"domain": [0.35, 4.65], "range": [236, 311], "nice": false, "zero": false}, "axis": null},
                  "y": {"field": "v", "type": "quantitative", "scale": {"domain": [-1.2, 1.2], "range": [8, 88], "nice": false, "zero": false}, "axis": null}, "text": {"field": "lab"}}},
    {"data": {"name": "inset"}, "transform": [{"filter": "datum.g == 'B'"}], "mark": {"type": "point", "filled": true, "opacity": 1},
     "encoding": {"x": {"field": "i", "type": "quantitative", "scale": {"domain": [0.35, 4.65], "range": [236, 311], "nice": false, "zero": false}, "axis": null},
                  "y": {"field": "est", "type": "quantitative", "scale": {"domain": [-1.2, 1.2], "range": [8, 88], "nice": false, "zero": false}, "axis": null},
                  "color": {"field": "t", "type": "nominal", "scale": {"domain": ["0","7.5","15","100"], "range": ["#000000","#6495ED","#FF8C00","#FF0000"]}, "legend": null},
                  "shape": {"field": "t", "type": "nominal", "scale": {"domain": ["0","7.5","15","100"], "range": ["circle","square","triangle-up","triangle-down"]}, "legend": null},
                  "size": {"field": "t", "type": "nominal", "scale": {"domain": ["0","7.5","15","100"], "range": [120,110,300,300]}, "legend": null}}},
    {"data": {"name": "inset"}, "transform": [{"filter": "datum.g == 'B'"}], "mark": {"type": "rule", "color": "black", "strokeWidth": 2},
     "encoding": {"x": {"field": "i", "type": "quantitative", "scale": {"domain": [0.35, 4.65], "range": [236, 311], "nice": false, "zero": false}, "axis": null},
                  "y": {"field": "lo", "type": "quantitative", "scale": {"domain": [-1.2, 1.2], "range": [8, 88], "nice": false, "zero": false}, "axis": null}, "y2": {"field": "hi"}}},
    {"data": {"name": "inset"}, "transform": [{"filter": "datum.g == 'B'"}], "mark": {"type": "tick", "orient": "horizontal", "size": 6, "thickness": 2, "color": "black"},
     "encoding": {"x": {"field": "i", "type": "quantitative", "scale": {"domain": [0.35, 4.65], "range": [236, 311], "nice": false, "zero": false}, "axis": null},
                  "y": {"field": "lo", "type": "quantitative", "scale": {"domain": [-1.2, 1.2], "range": [8, 88], "nice": false, "zero": false}, "axis": null}}},
    {"data": {"name": "inset"}, "transform": [{"filter": "datum.g == 'B'"}], "mark": {"type": "tick", "orient": "horizontal", "size": 6, "thickness": 2, "color": "black"},
     "encoding": {"x": {"field": "i", "type": "quantitative", "scale": {"domain": [0.35, 4.65], "range": [236, 311], "nice": false, "zero": false}, "axis": null},
                  "y": {"field": "hi", "type": "quantitative", "scale": {"domain": [-1.2, 1.2], "range": [8, 88], "nice": false, "zero": false}, "axis": null}}}
   ],
   "resolve": {"scale": {"x": "independent", "y": "independent"}}
  },
  {"width": 318, "height": 232,
   "layer": [
    {"data": {"name": "curves"}, "transform": [{"filter": "datum.g == 'C'"}],
     "mark": {"type": "line", "interpolate": "step-after", "strokeWidth": 2},
     "encoding": {
      "x": {"field": "d", "type": "quantitative", "scale": {"domain": [0, 22.7], "nice": false, "zero": false},
            "axis": {"values": [0, 5, 10, 15, 20], "labelPadding": 6, "title": "Cumulative days", "titleX": 328, "titleY": 81, "titleBaseline": "middle", "titleAlign": "center"}},
      "y": {"field": "p", "type": "quantitative", "scale": {"domain": [-0.04, 1.04], "nice": false, "zero": false},
            "axis": {"values": [0, 0.2, 0.4, 0.6, 0.8, 1], "labelExpr": "datum.value == 0 || datum.value == 0.4 || datum.value == 0.8 ? format(datum.value, '.1f') : ''", "labelAngle": 270, "labelAlign": "center", "labelBaseline": "bottom", "labelPadding": 15,
                     "title": "Proportion yet to transition", "titleX": -84, "titleY": -9, "titleAngle": 270, "titleAlign": "center", "titleBaseline": "middle"}},
      "color": {"field": "t", "type": "nominal", "scale": {"domain": ["0","7.5","15","100"], "range": ["#000000","#6495ED","#FF8C00","#FF0000"]}, "legend": null},
      "strokeDash": {"field": "t", "type": "nominal", "scale": {"domain": ["0","7.5","15","100"], "range": [[1,0],[7,3],[2.5,3.5],[8,3,2,3]]}, "legend": null},
      "detail": {"field": "s"}}},
    {"data": {"name": "labels"}, "transform": [{"filter": "datum.g == 'C'"}],
     "mark": {"type": "text", "fontSize": 25, "align": "center", "baseline": "middle"},
     "encoding": {
      "x": {"field": "d", "type": "quantitative", "scale": {"domain": [0, 22.7], "nice": false, "zero": false}, "axis": null},
      "y": {"field": "p", "type": "quantitative", "scale": {"domain": [-0.04, 1.04], "nice": false, "zero": false}, "axis": null},
      "text": {"field": "lab"}}},
    {"data": {"name": "sex"}, "transform": [{"filter": "datum.g == 'C'"}],
     "mark": {"type": "text", "fontSize": 27, "font": "DejaVu Sans", "angle": 90, "align": "center", "baseline": "middle"},
     "encoding": {
      "x": {"field": "d", "type": "quantitative", "scale": {"domain": [0, 22.7], "nice": false, "zero": false}, "axis": null},
      "y": {"field": "p", "type": "quantitative", "scale": {"domain": [-0.04, 1.04], "nice": false, "zero": false}, "axis": null},
      "text": {"field": "sym"}}},
    {"data": {"values": [{}]}, "mark": {"type": "rect", "fill": "white", "stroke": "black", "strokeWidth": 2},
     "encoding": {"x": {"datum": 0.35, "type": "quantitative", "scale": {"domain": [0.35, 4.65], "range": [236, 311], "nice": false, "zero": false}, "axis": null}, "x2": {"datum": 4.65},
                  "y": {"datum": -1.2, "type": "quantitative", "scale": {"domain": [-1.2, 1.2], "range": [8, 88], "nice": false, "zero": false}, "axis": null}, "y2": {"datum": 1.2}}},
    {"data": {"name": "iticks"}, "mark": {"type": "rule", "color": "#8c8c8c", "strokeWidth": 2},
     "encoding": {"x": {"datum": 0.35, "type": "quantitative", "scale": {"domain": [0.35, 4.65], "range": [236, 311], "nice": false, "zero": false}, "axis": null}, "x2": {"datum": 4.65},
                  "y": {"field": "v", "type": "quantitative", "scale": {"domain": [-1.2, 1.2], "range": [8, 88], "nice": false, "zero": false}, "axis": null}}},
    {"data": {"name": "iticks"}, "mark": {"type": "text", "angle": 270, "fontSize": 16, "align": "center", "baseline": "middle"},
     "encoding": {"x": {"datum": -0.45, "type": "quantitative", "scale": {"domain": [0.35, 4.65], "range": [236, 311], "nice": false, "zero": false}, "axis": null},
                  "y": {"field": "v", "type": "quantitative", "scale": {"domain": [-1.2, 1.2], "range": [8, 88], "nice": false, "zero": false}, "axis": null}, "text": {"field": "lab"}}},
    {"data": {"name": "inset"}, "transform": [{"filter": "datum.g == 'C'"}], "mark": {"type": "point", "filled": true, "opacity": 1},
     "encoding": {"x": {"field": "i", "type": "quantitative", "scale": {"domain": [0.35, 4.65], "range": [236, 311], "nice": false, "zero": false}, "axis": null},
                  "y": {"field": "est", "type": "quantitative", "scale": {"domain": [-1.2, 1.2], "range": [8, 88], "nice": false, "zero": false}, "axis": null},
                  "color": {"field": "t", "type": "nominal", "scale": {"domain": ["0","7.5","15","100"], "range": ["#000000","#6495ED","#FF8C00","#FF0000"]}, "legend": null},
                  "shape": {"field": "t", "type": "nominal", "scale": {"domain": ["0","7.5","15","100"], "range": ["circle","square","triangle-up","triangle-down"]}, "legend": null},
                  "size": {"field": "t", "type": "nominal", "scale": {"domain": ["0","7.5","15","100"], "range": [120,110,300,300]}, "legend": null}}},
    {"data": {"name": "inset"}, "transform": [{"filter": "datum.g == 'C'"}], "mark": {"type": "rule", "color": "black", "strokeWidth": 2},
     "encoding": {"x": {"field": "i", "type": "quantitative", "scale": {"domain": [0.35, 4.65], "range": [236, 311], "nice": false, "zero": false}, "axis": null},
                  "y": {"field": "lo", "type": "quantitative", "scale": {"domain": [-1.2, 1.2], "range": [8, 88], "nice": false, "zero": false}, "axis": null}, "y2": {"field": "hi"}}},
    {"data": {"name": "inset"}, "transform": [{"filter": "datum.g == 'C'"}], "mark": {"type": "tick", "orient": "horizontal", "size": 6, "thickness": 2, "color": "black"},
     "encoding": {"x": {"field": "i", "type": "quantitative", "scale": {"domain": [0.35, 4.65], "range": [236, 311], "nice": false, "zero": false}, "axis": null},
                  "y": {"field": "lo", "type": "quantitative", "scale": {"domain": [-1.2, 1.2], "range": [8, 88], "nice": false, "zero": false}, "axis": null}}},
    {"data": {"name": "inset"}, "transform": [{"filter": "datum.g == 'C'"}], "mark": {"type": "tick", "orient": "horizontal", "size": 6, "thickness": 2, "color": "black"},
     "encoding": {"x": {"field": "i", "type": "quantitative", "scale": {"domain": [0.35, 4.65], "range": [236, 311], "nice": false, "zero": false}, "axis": null},
                  "y": {"field": "hi", "type": "quantitative", "scale": {"domain": [-1.2, 1.2], "range": [8, 88], "nice": false, "zero": false}, "axis": null}}},
    {"data": {"name": "legend"}, "mark": {"type": "rule", "strokeWidth": 3, "xOffset": -22, "x2Offset": 22},
     "encoding": {"x": {"field": "t", "type": "nominal", "scale": {"type": "point", "domain": ["0","7.5","15","100"], "range": [-36, 438], "padding": 0}, "axis": null},
                  "x2": {"field": "t"},
                  "y": {"datum": 0.5, "type": "quantitative", "scale": {"domain": [0, 1], "range": [340, 370]}, "axis": null},
                  "color": {"field": "t", "type": "nominal", "scale": {"domain": ["0","7.5","15","100"], "range": ["#000000","#6495ED","#FF8C00","#FF0000"]}, "legend": null},
                  "strokeDash": {"field": "t", "type": "nominal", "scale": {"domain": ["0","7.5","15","100"], "range": [[1,0],[7,3],[2.5,3.5],[8,3,2,3]]}, "legend": null}}},
    {"data": {"name": "legend"}, "mark": {"type": "point", "filled": true, "opacity": 1, "size": 200},
     "encoding": {"x": {"field": "t", "type": "nominal", "scale": {"type": "point", "domain": ["0","7.5","15","100"], "range": [-36, 438], "padding": 0}, "axis": null},
                  "y": {"datum": 0.5, "type": "quantitative", "scale": {"domain": [0, 1], "range": [340, 370]}, "axis": null},
                  "color": {"field": "t", "type": "nominal", "scale": {"domain": ["0","7.5","15","100"], "range": ["#000000","#6495ED","#FF8C00","#FF0000"]}, "legend": null},
                  "shape": {"field": "t", "type": "nominal", "scale": {"domain": ["0","7.5","15","100"], "range": ["circle","square","triangle-up","triangle-down"]}, "legend": null}}},
    {"data": {"name": "legend"}, "mark": {"type": "text", "align": "left", "baseline": "middle", "dx": 36, "fontSize": 25},
     "encoding": {"x": {"field": "t", "type": "nominal", "scale": {"type": "point", "domain": ["0","7.5","15","100"], "range": [-36, 438], "padding": 0}, "axis": null},
                  "y": {"datum": 0.5, "type": "quantitative", "scale": {"domain": [0, 1], "range": [340, 370]}, "axis": null},
                  "text": {"field": "name"}}}
   ],
   "resolve": {"scale": {"x": "independent", "y": "independent"}}
  },
  {"width": 318, "height": 232,
   "layer": [
    {"data": {"name": "curves"}, "transform": [{"filter": "datum.g == 'D'"}],
     "mark": {"type": "line", "interpolate": "step-after", "strokeWidth": 2},
     "encoding": {
      "x": {"field": "d", "type": "quantitative", "scale": {"domain": [0, 40.6], "nice": false, "zero": false},
            "axis": {"values": [0, 10, 20, 30, 40], "labelPadding": 6, "title": null}},
      "y": {"field": "p", "type": "quantitative", "scale": {"domain": [-0.04, 1.04], "nice": false, "zero": false}, "axis": null},
      "color": {"field": "t", "type": "nominal", "scale": {"domain": ["0","7.5","15","100"], "range": ["#000000","#6495ED","#FF8C00","#FF0000"]}, "legend": null},
      "strokeDash": {"field": "t", "type": "nominal", "scale": {"domain": ["0","7.5","15","100"], "range": [[1,0],[7,3],[2.5,3.5],[8,3,2,3]]}, "legend": null},
      "detail": {"field": "s"}}},
    {"data": {"name": "labels"}, "transform": [{"filter": "datum.g == 'D'"}],
     "mark": {"type": "text", "fontSize": 25, "align": "center", "baseline": "middle"},
     "encoding": {
      "x": {"field": "d", "type": "quantitative", "scale": {"domain": [0, 40.6], "nice": false, "zero": false}, "axis": null},
      "y": {"field": "p", "type": "quantitative", "scale": {"domain": [-0.04, 1.04], "nice": false, "zero": false}, "axis": null},
      "text": {"field": "lab"}}},
    {"data": {"name": "ptr"}, "transform": [{"filter": "datum.g == 'D'"}],
     "mark": {"type": "rule", "color": "black", "strokeWidth": 2},
     "encoding": {
      "x": {"field": "d1", "type": "quantitative", "scale": {"domain": [0, 40.6], "nice": false, "zero": false}, "axis": null},
      "x2": {"field": "d2"},
      "y": {"field": "p", "type": "quantitative", "scale": {"domain": [-0.04, 1.04], "nice": false, "zero": false}, "axis": null}}},
    {"data": {"values": [{}]}, "mark": {"type": "rect", "fill": "white", "stroke": "black", "strokeWidth": 2},
     "encoding": {"x": {"datum": 0.35, "type": "quantitative", "scale": {"domain": [0.35, 4.65], "range": [236, 311], "nice": false, "zero": false}, "axis": null}, "x2": {"datum": 4.65},
                  "y": {"datum": -1.2, "type": "quantitative", "scale": {"domain": [-1.2, 1.2], "range": [8, 88], "nice": false, "zero": false}, "axis": null}, "y2": {"datum": 1.2}}},
    {"data": {"name": "iticks"}, "mark": {"type": "rule", "color": "#8c8c8c", "strokeWidth": 2},
     "encoding": {"x": {"datum": 0.35, "type": "quantitative", "scale": {"domain": [0.35, 4.65], "range": [236, 311], "nice": false, "zero": false}, "axis": null}, "x2": {"datum": 4.65},
                  "y": {"field": "v", "type": "quantitative", "scale": {"domain": [-1.2, 1.2], "range": [8, 88], "nice": false, "zero": false}, "axis": null}}},
    {"data": {"name": "iticks"}, "mark": {"type": "text", "angle": 270, "fontSize": 16, "align": "center", "baseline": "middle"},
     "encoding": {"x": {"datum": -0.45, "type": "quantitative", "scale": {"domain": [0.35, 4.65], "range": [236, 311], "nice": false, "zero": false}, "axis": null},
                  "y": {"field": "v", "type": "quantitative", "scale": {"domain": [-1.2, 1.2], "range": [8, 88], "nice": false, "zero": false}, "axis": null}, "text": {"field": "lab"}}},
    {"data": {"name": "inset"}, "transform": [{"filter": "datum.g == 'D'"}], "mark": {"type": "point", "filled": true, "opacity": 1},
     "encoding": {"x": {"field": "i", "type": "quantitative", "scale": {"domain": [0.35, 4.65], "range": [236, 311], "nice": false, "zero": false}, "axis": null},
                  "y": {"field": "est", "type": "quantitative", "scale": {"domain": [-1.2, 1.2], "range": [8, 88], "nice": false, "zero": false}, "axis": null},
                  "color": {"field": "t", "type": "nominal", "scale": {"domain": ["0","7.5","15","100"], "range": ["#000000","#6495ED","#FF8C00","#FF0000"]}, "legend": null},
                  "shape": {"field": "t", "type": "nominal", "scale": {"domain": ["0","7.5","15","100"], "range": ["circle","square","triangle-up","triangle-down"]}, "legend": null},
                  "size": {"field": "t", "type": "nominal", "scale": {"domain": ["0","7.5","15","100"], "range": [120,110,300,300]}, "legend": null}}},
    {"data": {"name": "inset"}, "transform": [{"filter": "datum.g == 'D'"}], "mark": {"type": "rule", "color": "black", "strokeWidth": 2},
     "encoding": {"x": {"field": "i", "type": "quantitative", "scale": {"domain": [0.35, 4.65], "range": [236, 311], "nice": false, "zero": false}, "axis": null},
                  "y": {"field": "lo", "type": "quantitative", "scale": {"domain": [-1.2, 1.2], "range": [8, 88], "nice": false, "zero": false}, "axis": null}, "y2": {"field": "hi"}}},
    {"data": {"name": "inset"}, "transform": [{"filter": "datum.g == 'D'"}], "mark": {"type": "tick", "orient": "horizontal", "size": 6, "thickness": 2, "color": "black"},
     "encoding": {"x": {"field": "i", "type": "quantitative", "scale": {"domain": [0.35, 4.65], "range": [236, 311], "nice": false, "zero": false}, "axis": null},
                  "y": {"field": "lo", "type": "quantitative", "scale": {"domain": [-1.2, 1.2], "range": [8, 88], "nice": false, "zero": false}, "axis": null}}},
    {"data": {"name": "inset"}, "transform": [{"filter": "datum.g == 'D'"}], "mark": {"type": "tick", "orient": "horizontal", "size": 6, "thickness": 2, "color": "black"},
     "encoding": {"x": {"field": "i", "type": "quantitative", "scale": {"domain": [0.35, 4.65], "range": [236, 311], "nice": false, "zero": false}, "axis": null},
                  "y": {"field": "hi", "type": "quantitative", "scale": {"domain": [-1.2, 1.2], "range": [8, 88], "nice": false, "zero": false}, "axis": null}}},
    {"data": {"name": "inset"}, "transform": [{"filter": "datum.g == 'D'"}], "mark": {"type": "text", "fontSize": 18, "align": "center", "baseline": "bottom", "dy": -1},
     "encoding": {"x": {"field": "i", "type": "quantitative", "scale": {"domain": [0.35, 4.65], "range": [236, 311], "nice": false, "zero": false}, "axis": null},
                  "y": {"field": "lo", "type": "quantitative", "scale": {"domain": [-1.2, 1.2], "range": [8, 88], "nice": false, "zero": false}, "axis": null}, "text": {"field": "lt"}}}
   ],
   "resolve": {"scale": {"x": "independent", "y": "independent"}}
  }
],
"columns": 2,
"spacing": {"row": 17, "column": 20},
"bounds": "flush"
}
